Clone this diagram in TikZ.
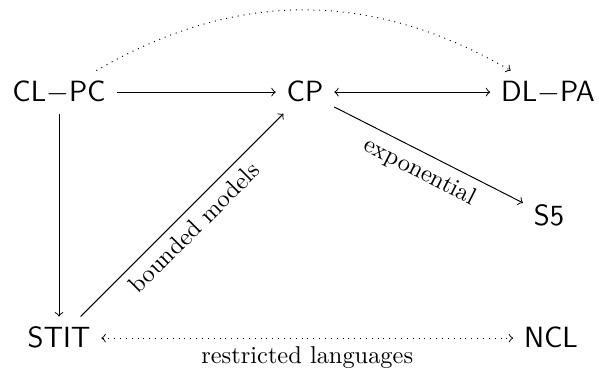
\documentclass[tikz,border=0pt]{standalone}
\begin{document}
\begin{tikzpicture}[x=0.41pt,y=-0.41pt,
  cell/.style={font=\large\sffamily, anchor=base, inner xsep=4.3pt, inner ysep=4pt, text height=8.3pt, text depth=1pt},
  lab/.style={font=\normalsize\rmfamily, sloped, inner sep=3.33pt},
  edge/.style={->},
  dotedge/.style={->, dotted}]
\useasboundingbox (0,0) rectangle (599,368);
\node[cell] (clpc) at (59,101) {CL$-$PC};
\node[cell] (cp) at (305,101) {CP};
\node[cell] (dlpa) at (548,101) {DL$-$PA};
\node[cell] (s5) at (549,225) {S5};
\node[cell] (stit) at (59,347) {STIT};
\node[cell] (ncl) at (551,347) {NCL};
\draw[edge] (clpc) -- (cp);
\draw[edge, <->] (cp) -- (dlpa);
\draw[edge] (clpc) -- (stit);
\draw[edge] (stit) -- node[lab, below] {bounded models} (cp);
\draw[edge] (cp) -- node[lab, below] {exponential} (s5);
\draw[dotedge, <->] (stit) -- node[lab, below] {restricted languages} (ncl);
\draw[dotedge] (clpc) to[bend left=30] (dlpa);
\end{tikzpicture}
\end{document}
